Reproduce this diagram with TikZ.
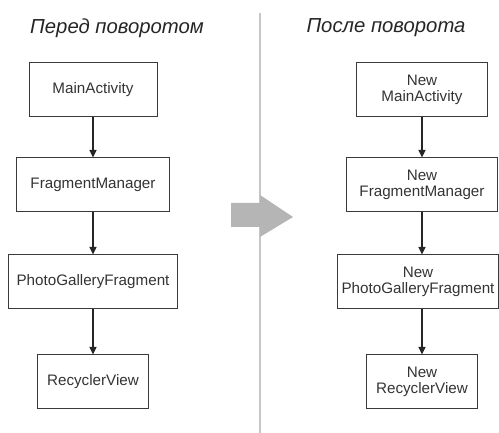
\documentclass[tikz,border=0pt]{standalone}
\usepackage{fontspec}
\setmainfont{Liberation Sans}
\usepackage{xcolor}
\usetikzlibrary{positioning, arrows.meta}
\definecolor{boxline}{HTML}{3A3A3A}
\definecolor{boxtext}{HTML}{333333}
\definecolor{divider}{HTML}{C6C6C6}
\definecolor{turnarrow}{HTML}{B5B5B5}

\begin{document}
\begin{tikzpicture}[x=1pt, y=1pt,
  obj/.style={draw=boxline, line width=1pt, minimum height=54pt, align=center, text=boxtext, font=\fontsize{15.2}{16.5}\selectfont, inner sep=2pt},
  heading/.style={font=\fontsize{20.3}{22}\selectfont\itshape, text=black!85},
  arrow/.style={-{Triangle[length=7.5pt, width=7pt]}, line width=1.1pt, color=black!85}
]
  \useasboundingbox (0,0) rectangle (499,433);
  \clip (0,0) rectangle (499,433);

  % divider and turn arrow
  \draw[divider, line width=2.5pt] (260,420) -- (260,0);
  \fill[turnarrow] (231,206) -- (260,206) -- (260,196) -- (293,216) -- (260,238) -- (260,230) -- (231,230) -- cycle;

  \node[heading] (before) at (117,405) {Перед поворотом};
  \node[heading] (after) at (386,405) {После поворота};

  % before rotation
  \node[obj, minimum width=128pt] (main) at (93,343) {MainActivity};
  \node[obj, minimum width=153pt] (fm) at (93,248) {FragmentManager};
  \node[obj, minimum width=169pt] (pgf) at (93,151) {PhotoGalleryFragment};
  \node[obj, minimum width=111pt] (rv) at (93,51) {RecyclerView};

  \draw[arrow] (main) -- (fm);
  \draw[arrow] (fm) -- (pgf);
  \draw[arrow] (pgf) -- (rv);

  % after rotation
  \node[obj, minimum width=131pt] (newmain) at (422,343) {New\\MainActivity};
  \node[obj, minimum width=151pt] (newfm) at (422,248) {New\\FragmentManager};
  \node[obj, minimum width=161pt] (newpgf) at (418,151) {New\\PhotoGalleryFragment};
  \node[obj, minimum width=111pt] (newrv) at (422,51) {New\\RecyclerView};

  \draw[arrow] (newmain) -- (newfm);
  \draw[arrow] (newfm.south) -- (newfm.south |- newpgf.north);
  \draw[arrow] (newpgf.south -| newrv.north) -- (newrv.north);
\end{tikzpicture}
\end{document}
